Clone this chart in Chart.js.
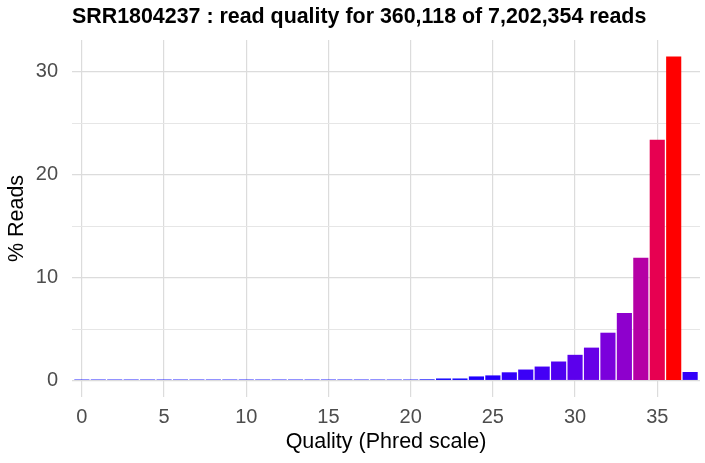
<!DOCTYPE html>
<html>
<head>
<meta charset="utf-8">
<script src="https://cdn.jsdelivr.net/npm/chart.js@4.4.0/dist/chart.umd.min.js"></script>
<style>
  html, body { margin: 0; padding: 0; background: #fff; }
</style>
</head>
<body>
<canvas id="myChart" width="705" height="463"></canvas>
<script>
//Chart data
const chartTitle = 'SRR1804237 : read quality for 360,118 of 7,202,354 reads';
const xTitle = 'Quality (Phred scale)';
const yTitle = '% Reads';

const quality = [0, 1, 2, 3, 4, 5, 6, 7, 8, 9, 10, 11, 12, 13, 14, 15, 16, 17, 18,
    19, 20, 21, 22, 23, 24, 25, 26, 27, 28, 29, 30, 31, 32, 33, 34, 35, 36, 37];
const percentReads = [0.1, 0.1, 0.1, 0.1, 0.1, 0.1, 0.1, 0.1, 0.1, 0.1,
    0.1, 0.1, 0.1, 0.1, 0.1, 0.1, 0.1, 0.1, 0.1, 0.1,
    0.1, 0.12, 0.2, 0.2, 0.4, 0.5, 0.8, 1.07, 1.36, 1.85,
    2.5, 3.2, 4.65, 6.57, 11.93, 23.4, 31.5, 0.83];

const xTickValues = [0, 5, 10, 15, 20, 25, 30, 35];
const yGridValues = [0, 5, 10, 15, 20, 25, 30];
const yTickLabels = [0, 10, 20, 30];

//Colour scale blue -> red, mixed in Lab space like ggplot does
function toLinear(c) {
    c = c / 255;
    return c <= 0.04045 ? c / 12.92 : Math.pow((c + 0.055) / 1.055, 2.4);
}
function fromLinear(c) {
    const v = c <= 0.0031308 ? 12.92 * c : 1.055 * Math.pow(c, 1 / 2.4) - 0.055;
    return Math.max(0, Math.min(255, Math.round(v * 255)));
}
const white = [0.95047, 1.0, 1.08883];
function rgbToLab(rgb) {
    const r = toLinear(rgb[0]), g = toLinear(rgb[1]), b = toLinear(rgb[2]);
    const xyz = [
        0.4124564 * r + 0.3575761 * g + 0.1804375 * b,
        0.2126729 * r + 0.7151522 * g + 0.0721750 * b,
        0.0193339 * r + 0.1191920 * g + 0.9503041 * b
    ];
    const f = xyz.map(function(v, i) {
        const t = v / white[i];
        return t > 216 / 24389 ? Math.cbrt(t) : (24389 / 27 * t + 16) / 116;
    });
    return [116 * f[1] - 16, 500 * (f[0] - f[1]), 200 * (f[1] - f[2])];
}
function labToRgb(lab) {
    const fy = (lab[0] + 16) / 116;
    const fx = fy + lab[1] / 500;
    const fz = fy - lab[2] / 200;
    const xyz = [fx, fy, fz].map(function(f, i) {
        const t = f * f * f > 216 / 24389 ? f * f * f : (116 * f - 16) / (24389 / 27);
        return t * white[i];
    });
    const r = 3.2404542 * xyz[0] - 1.5371385 * xyz[1] - 0.4985314 * xyz[2];
    const g = -0.9692660 * xyz[0] + 1.8760108 * xyz[1] + 0.0415560 * xyz[2];
    const b = 0.0556434 * xyz[0] - 0.2040259 * xyz[1] + 1.0572252 * xyz[2];
    return 'rgb(' + fromLinear(r) + ',' + fromLinear(g) + ',' + fromLinear(b) + ')';
}
const lowLab = rgbToLab([0, 0, 255]);
const highLab = rgbToLab([255, 0, 0]);
const minVal = Math.min.apply(null, percentReads);
const maxVal = Math.max.apply(null, percentReads);
const barColours = percentReads.map(function(v) {
    const t = (v - minVal) / (maxVal - minVal);
    return labToRgb([0, 1, 2].map(i => lowLab[i] + (highLab[i] - lowLab[i]) * t));
});

const fontFamily = '"Liberation Sans", Arial, sans-serif';

//Title drawn at the left edge of the plot area, like ggplot
const titlePlugin = {
    id: 'leftTitle',
    afterDraw(chart) {
        const c = chart.ctx;
        c.save();
        c.font = 'bold 21.4px ' + fontFamily;
        c.fillStyle = '#000';
        c.textBaseline = 'middle';
        c.textAlign = 'left';
        c.fillText(chartTitle, chart.chartArea.left, 17);
        c.restore();
    }
};

const ctx = document.getElementById('myChart').getContext('2d');

const myChart = new Chart(ctx, {
    type: 'bar',
    data: {
        datasets: [{
            data: quality.map((q, i) => ({ x: q, y: percentReads[i] })),
            backgroundColor: barColours,
            borderWidth: 0,
            barPercentage: 0.92,
            categoryPercentage: 1.0
        }]
    },
    options: {
        responsive: false,
        animation: false,
        devicePixelRatio: 1,
        events: [],
        layout: { padding: { left: 0, right: 5, top: 40, bottom: 0 } },
        plugins: {
            legend: { display: false },
            title: { display: false },
            tooltip: { enabled: false }
        },
        scales: {
            x: {
                type: 'linear',
                min: -0.6,
                max: 37.6,
                offset: false,
                afterBuildTicks: s => { s.ticks = xTickValues.map(v => ({ value: v })); },
                afterFit: s => { s.height = 66; },
                border: { display: false },
                grid: { color: '#dcdcdc', lineWidth: 1.2, drawTicks: false, offset: false },
                ticks: {
                    color: '#4d4d4d',
                    padding: 8,
                    maxRotation: 0,
                    font: { family: fontFamily, size: 20 }
                },
                title: {
                    display: true,
                    text: xTitle,
                    color: '#000',
                    padding: { top: 0, bottom: 8 },
                    font: { family: fontFamily, size: 21.5 }
                }
            },
            y: {
                min: -1.6,
                max: 33.1,
                afterBuildTicks: s => { s.ticks = yGridValues.map(v => ({ value: v })); },
                afterFit: s => { s.width = 72; },
                border: { display: false },
                grid: {
                    color: c => yTickLabels.includes(c.tick.value) ? '#dcdcdc' : '#e6e6e6',
                    lineWidth: c => yTickLabels.includes(c.tick.value) ? 1.2 : 1,
                    drawTicks: false
                },
                ticks: {
                    color: '#4d4d4d',
                    padding: 14,
                    callback: v => yTickLabels.includes(v) ? v : '',
                    font: { family: fontFamily, size: 20 }
                },
                title: {
                    display: true,
                    text: yTitle,
                    color: '#000',
                    padding: { top: 4, bottom: 0 },
                    font: { family: fontFamily, size: 21.5 }
                }
            }
        }
    },
    plugins: [titlePlugin]
});
</script>
</body>
</html>
